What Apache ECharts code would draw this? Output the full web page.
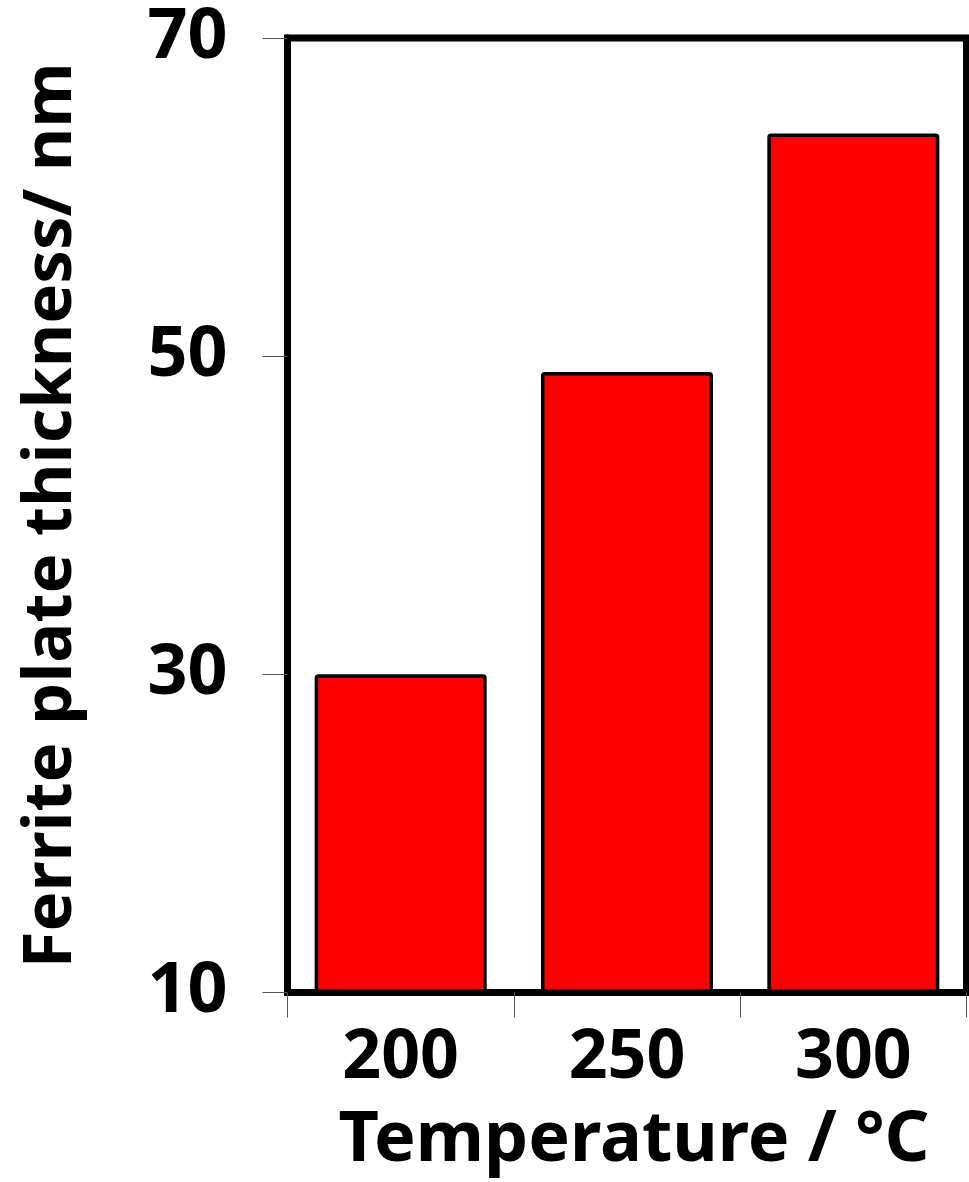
<!DOCTYPE html>
<html>
<head>
<meta charset="utf-8">
<script src="https://cdn.jsdelivr.net/npm/echarts@6/dist/echarts.min.js"></script>
<style>
html,body{margin:0;padding:0;background:#fff;}
#chart{width:969px;height:1182px;}
</style>
</head>
<body>
<div id="chart"></div>
<script>
const categories = ['200', '250', '300'];
const thickness = [30, 49, 64];
const yMin = 10, yMax = 70, yInterval = 20;
const xTitle = 'Temperature / °C';
const yTitle = 'Ferrite plate thickness/ nm';

const FONT = '"Comic Sans MS", "Noto Sans", sans-serif';
const chart = echarts.init(document.getElementById('chart'), null, {renderer: 'canvas'});
chart.setOption({
  animation: false,
  backgroundColor: '#fff',
  grid: {
    left: 287.5, right: 2.5, top: 38, bottom: 189.5,
    containLabel: false,
    outerBoundsMode: 'none',
    show: true, borderWidth: 7, borderColor: '#000', backgroundColor: 'transparent'
  },
  xAxis: {
    type: 'category',
    data: categories,
    z: 5,
    axisLine: {show: true, lineStyle: {color: '#000', width: 7}},
    axisTick: {show: true, length: 25, alignWithLabel: false, lineStyle: {color: '#555', width: 1}},
    axisLabel: {fontFamily: FONT, fontWeight: 'bold', fontSize: 68, color: '#000', margin: 32},
    name: xTitle,
    nameLocation: 'middle',
    nameGap: 114,
    nameTextStyle: {fontFamily: FONT, fontWeight: 'bold', fontSize: 70, color: '#000', padding: [0, 0, 0, 14]}
  },
  yAxis: {
    type: 'value',
    min: yMin, max: yMax, interval: yInterval,
    z: 5,
    splitLine: {show: false},
    axisLine: {show: true, lineStyle: {color: '#000', width: 7}},
    axisTick: {show: true, length: 25, lineStyle: {color: '#555', width: 1}},
    axisLabel: {fontFamily: FONT, fontWeight: 'bold', fontSize: 70, color: '#000', margin: 60},
    name: yTitle,
    nameLocation: 'middle',
    nameGap: 202,
    nameRotate: 90,
    nameTextStyle: {fontFamily: FONT, fontWeight: 'bold', fontSize: 67, color: '#000'}
  },
  series: [{
    type: 'bar',
    data: thickness,
    barWidth: '76%',
    itemStyle: {color: '#ff0000', borderColor: '#000', borderWidth: 3.5, borderRadius: 2}
  }]
});
</script>
</body>
</html>
